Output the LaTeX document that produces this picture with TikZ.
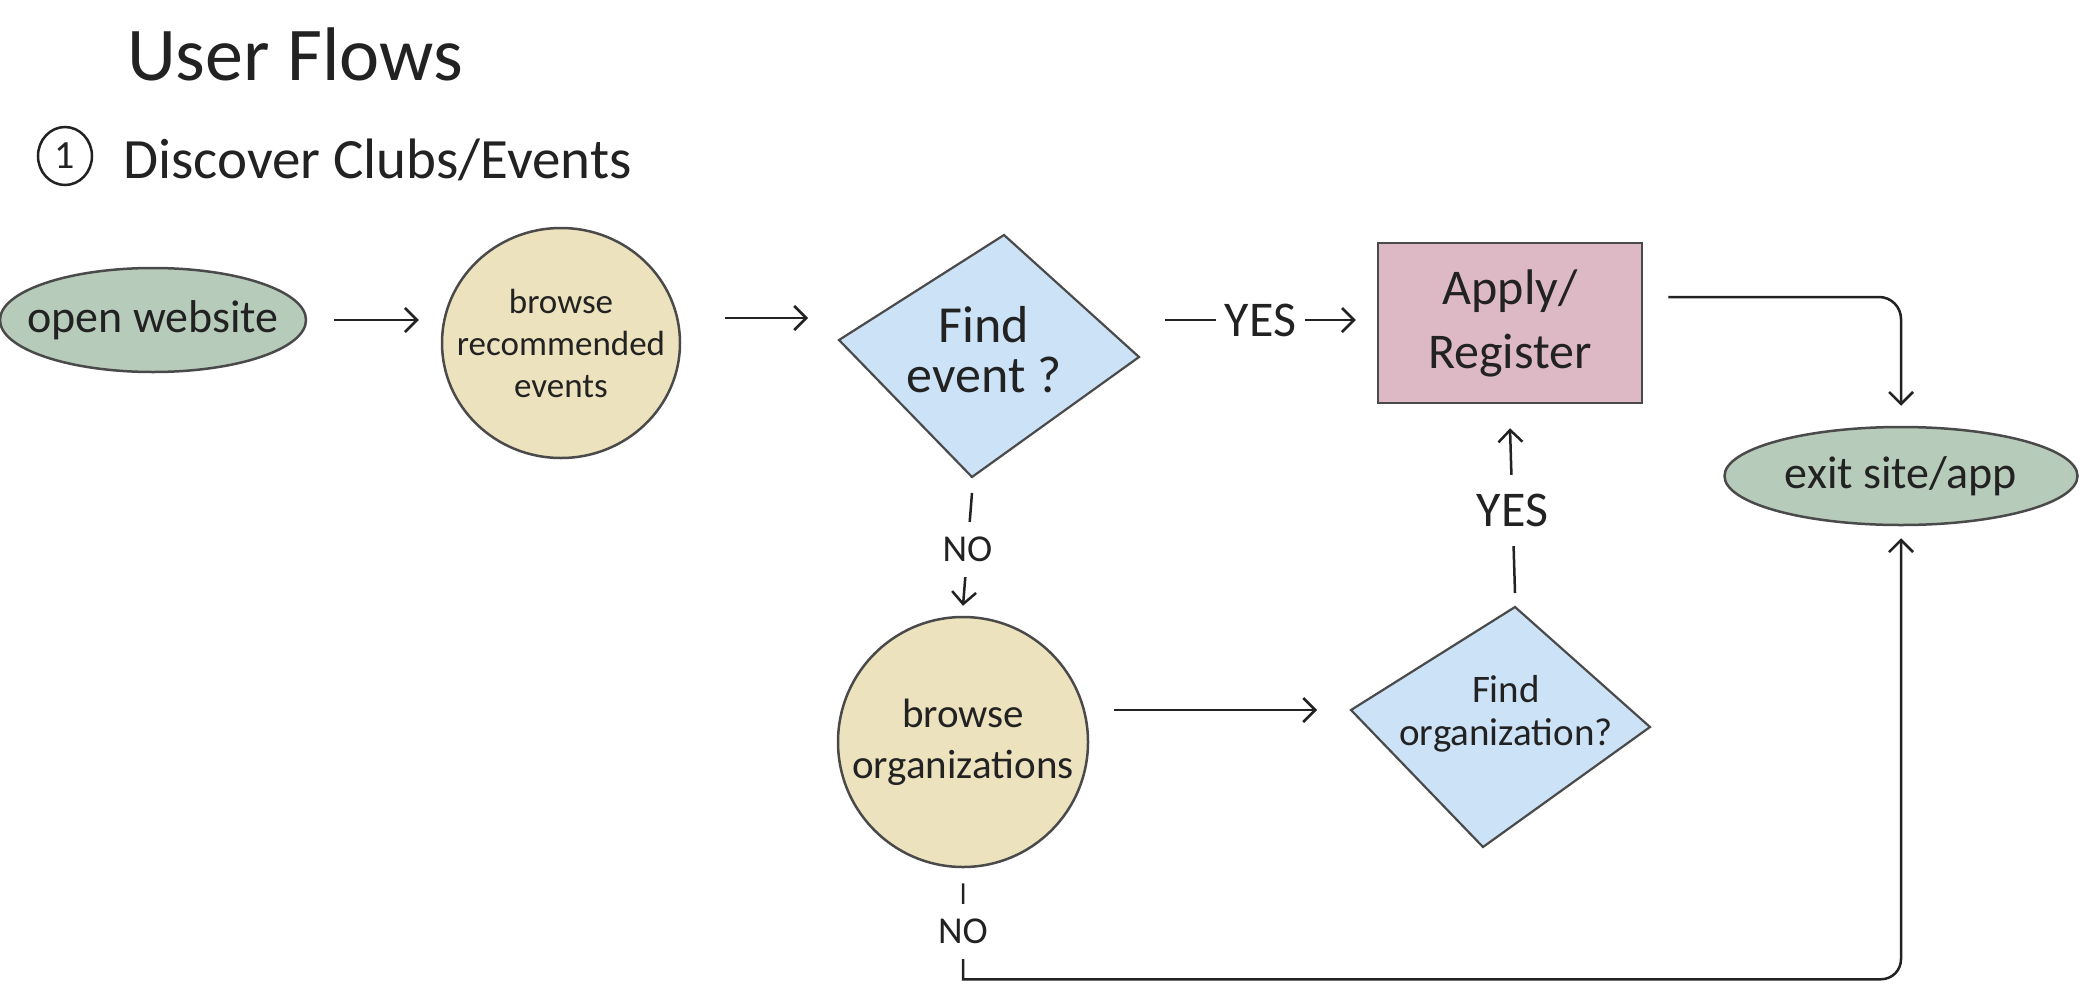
\documentclass[tikz,border=0pt]{standalone}
\usepackage{fontspec}
\setmainfont{Carlito}
\usetikzlibrary{shapes.geometric,arrows.meta,calc}
\definecolor{sage}{HTML}{B7CBBB}
\definecolor{tanfill}{HTML}{EDE2BE}
\definecolor{sky}{HTML}{CCE2F6}
\definecolor{rose}{HTML}{DCB9C4}
\definecolor{ink}{HTML}{222222}
\definecolor{outl}{HTML}{4A4A4A}
\begin{document}
\begin{tikzpicture}[x=1pt,y=-1pt,
  shapebase/.style={draw=outl, line width=2.5pt, inner sep=0pt, text=ink, align=center},
  termnode/.style={shapebase, ellipse, fill=sage, inner xsep=-50pt, inner ysep=-20pt},
  browsenode/.style={shapebase, ellipse, fill=tanfill, inner xsep=-50pt, inner ysep=-20pt},
  actnode/.style={shapebase, rectangle, fill=rose},
  decfill/.style={draw=outl, line width=2.2pt, fill=sky, line join=miter},
  dectext/.style={inner sep=0pt, text=ink, align=center},
  arr/.style={draw=ink, line width=2.5pt, -{Straight Barb[length=12pt,width=24pt,line width=2.5pt]}},
  lblyes/.style={fill=white, text=ink, inner xsep=9pt, inner ysep=19pt, font=\fontsize{50}{50}\selectfont},
  lblno/.style={fill=white, text=ink, inner xsep=9pt, inner ysep=15pt, font=\fontsize{38}{38}\selectfont},
]
\fill[white] (0,0) rectangle (2090,996);
\useasboundingbox (0,0) rectangle (2090,996);

% titles
\node[anchor=base west, inner sep=0pt, text=ink, font=\fontsize{76}{80}\selectfont] (title) at (127,80) {User Flows};
\node[draw=ink, line width=2.5pt, ellipse, minimum width=54pt, minimum height=58pt, inner sep=0pt, text=ink, font=\fontsize{40}{40}\selectfont] (num) at (65,156) {1};
\node[anchor=base west, inner sep=0pt, text=ink, font=\fontsize{57}{60}\selectfont] (sub) at (123,178) {Discover Clubs/Events};

% nodes
\node[termnode, minimum width=306pt, minimum height=104pt, font=\fontsize{46}{50}\selectfont] (open) at (153,320) {open website};
\node[browsenode, minimum width=238pt, minimum height=230pt, font=\fontsize{35}{42}\selectfont] (rec) at (561,343) {browse\\recommended\\events};

\coordinate (evT) at (1004,235);
\coordinate (evR) at (1139,357);
\coordinate (evB) at (972,477);
\coordinate (evL) at (839,340);
\draw[decfill] (evT) -- (evR) -- (evB) -- (evL) -- cycle;
\node[dectext, font=\fontsize{52}{50}\selectfont] (findev) at (984,350) {Find\\event ?};

\node[actnode, minimum width=264pt, minimum height=160pt, font=\fontsize{50}{64}\selectfont] (apply) at (1510,323) {Apply/\\Register};
\node[termnode, minimum width=353pt, minimum height=98pt, font=\fontsize{46}{50}\selectfont] (exit) at (1901,476) {exit site/app};
\node[browsenode, minimum width=250pt, minimum height=250pt, font=\fontsize{41}{51}\selectfont] (org) at (963,742) {browse\\organizations};

\coordinate (orgT) at (1515,607);
\coordinate (orgR) at (1650,727);
\coordinate (orgB) at (1483,847);
\coordinate (orgL) at (1351,710);
\draw[decfill] (orgT) -- (orgR) -- (orgB) -- (orgL) -- cycle;
\node[dectext, font=\fontsize{39}{43}\selectfont] (findorg) at (1506,714) {Find\\organization?};

% connectors
\draw[arr] ([xshift=27pt]open.east) -- ([xshift=-22pt]open.east -| rec.west);
\draw[arr] ($(rec.east)+(44,-25)$) -- ($(evL)+(-31,-22)$);
\draw[arr] ($(evR)+(26,-37)$) -- node[lblyes]{YES} ($(apply.west)+(-21,-3)$);
\draw[arr] ([yshift=-16pt]evB) -- node[lblno]{NO} ([yshift=10pt]org.north);
\draw[arr] ($(org.east)+(25,-32)$) -- ($(orgL)+(-34,0)$);
\draw[arr] ([yshift=14pt]orgT) -- node[lblyes]{YES} ([yshift=-24pt]apply.south);
\draw[arr, rounded corners=22pt] ($(apply.east)+(25,-26)$) -| ([yshift=20pt]exit.north);
\coordinate (nob) at ($(org.south)+(0,111)$);
\draw[arr] ([yshift=-15pt]org.south) -- node[lblno]{NO} (nob) -- ($(nob -| exit.south)+(-40,0)$) [rounded corners=20pt] -- (nob -| exit.south) -- ([yshift=-12pt]exit.south);
\end{tikzpicture}
\end{document}
